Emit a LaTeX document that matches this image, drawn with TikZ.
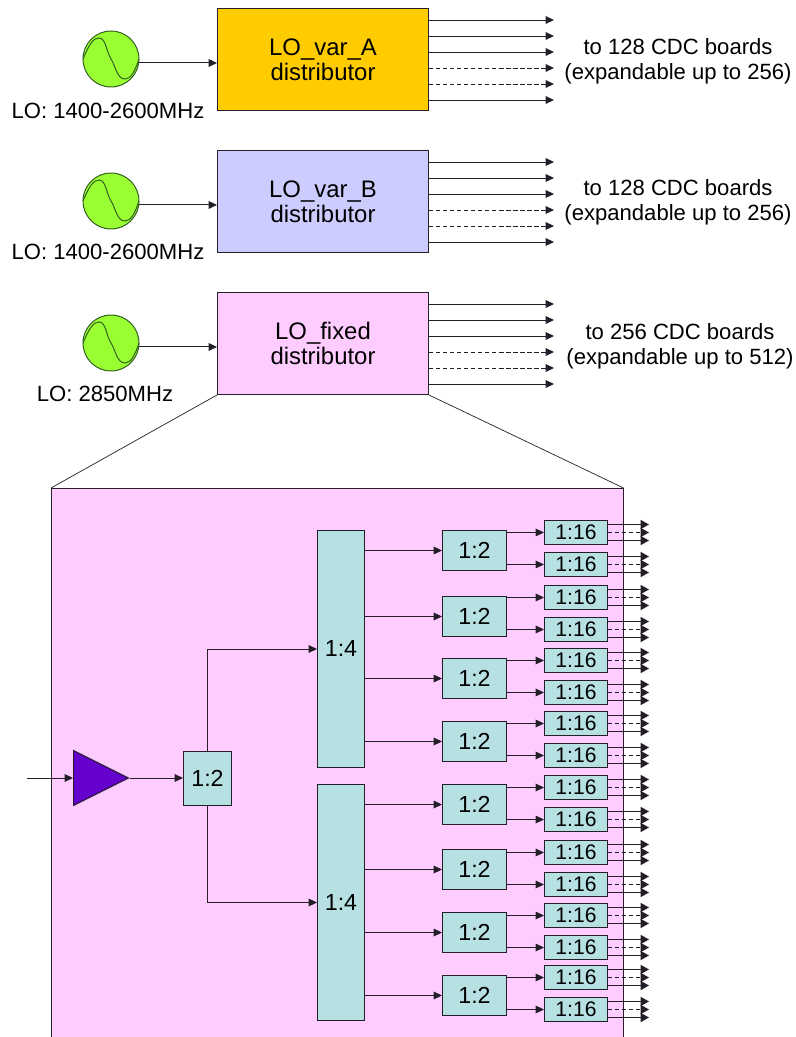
\documentclass[tikz,border=0pt]{standalone}
\usepackage{fontspec}
\setmainfont{Liberation Sans}
\usetikzlibrary{shapes,arrows.meta,positioning,calc}
\definecolor{lo-a}{RGB}{255, 204, 0}
\definecolor{lo-b}{RGB}{204, 204, 255}
\definecolor{lo-pink}{RGB}{255, 204, 255}
\definecolor{lo-teal}{RGB}{183, 224, 226}
\definecolor{lo-green}{RGB}{153, 255, 51}
\definecolor{lo-olive}{RGB}{50, 95, 30}
\definecolor{lo-purple}{RGB}{102, 0, 204}
\definecolor{lo-line}{RGB}{35, 30, 40}
\newlength{\px}
\setlength{\px}{0.025cm}
\tikzstyle{a}=[anchor=north west]
\tikzstyle{box}=[a,draw=lo-line,line width=0.7pt,rectangle,inner sep=0pt,align=center]
\tikzstyle{dist}=[box,minimum width=211\px,minimum height=102\px,font=\fontsize{17}{17.5}\selectfont]
\tikzstyle{four}=[box,fill=lo-teal,minimum width=47\px,minimum height=237\px,font=\fontsize{16.5}{18}\selectfont]
\tikzstyle{two}=[box,fill=lo-teal,minimum width=64\px,minimum height=40\px,font=\fontsize{16.5}{18}\selectfont]
\tikzstyle{sixteen}=[box,fill=lo-teal,minimum width=63\px,minimum height=24\px,font=\fontsize{15}{16}\selectfont]
\tikzstyle{osc}=[circle,draw=lo-olive,line width=0.7pt,fill=lo-green,minimum size=56\px,inner sep=0pt]
\tikzstyle{amp}=[isosceles triangle,isosceles triangle stretches,draw=lo-line,line width=0.7pt,fill=lo-purple,minimum width=55\px,minimum height=55\px,inner sep=0pt]
\tikzstyle{arrow}=[draw=lo-line,line width=0.7pt,-{Triangle[length=6pt,width=5.5pt]}]
\tikzstyle{bigarrow}=[draw=lo-line,line width=0.8pt,-{Triangle[length=6pt,width=6.5pt]}]
\tikzstyle{zoomline}=[draw=lo-line,line width=0.5pt]
\tikzstyle{lab}=[align=center,inner sep=0pt,font=\fontsize{15.7}{18}\selectfont]
\begin{document}
\begin{tikzpicture}[x=\px,y=-\px]
    \useasboundingbox (0,0) rectangle (795,1037);

    % distributors
    \node[dist,fill=lo-a] at (217,8) (lovara) {LO\_var\_A\\distributor};
    \node[dist,fill=lo-b] at (217,150) (lovarb) {LO\_var\_B\\distributor};
    \node[dist,fill=lo-pink] at (217,292) (lofixed) {LO\_fixed\\distributor};

    \node[osc] at (111,59) (osca) {};
    \node[osc] at (111,201) (oscb) {};
    \node[osc] at (111,343) (oscf) {};

    \node[lab] at (108,111) (labela) {LO: 1400-2600MHz};
    \node[lab] at (108,252) (labelb) {LO: 1400-2600MHz};
    \node[lab] at (105,394) (labelf) {LO: 2850MHz};

    \node[lab] at (678,61) (boardsa) {to 128 CDC boards\\(expandable up to 256)};
    \node[lab] at (678,202) (boardsb) {to 128 CDC boards\\(expandable up to 256)};
    \node[lab] at (680,346) (boardsf) {to 256 CDC boards\\(expandable up to 512)};

    \foreach \o/\d in {osca/lovara,oscb/lovarb,oscf/lofixed} {
        \draw[lo-olive,line width=0.7pt,shift={(\o.center)}] (-28,0) .. controls (-22,-14) and (-18,-21) .. (-12,-21)
            .. controls (-5,-21) and (-5,-8) .. (0,0) .. controls (5,8) and (6,20) .. (14,20)
            .. controls (20,20) and (24,12) .. (28,0);
        \draw[arrow] (\o.-8) -- (\o.-8-|\d.west);
        \foreach \y/\s in {12/solid,28/solid,44/solid,60/densely dashed,76/densely dashed,92/solid} {
            \coordinate (\d-out\y) at ($(\d.north east)+(125,\y)$);
            \draw[arrow,\s] (\d.east|-\d-out\y) -- (\d-out\y);
        }
    }

    % expanded view
    \node[a,fill=lo-pink,inner sep=0pt,minimum width=572\px,minimum height=549\px] at (51,488) (big) {};
    \draw[lo-line,line width=0.7pt] (big.south west) -- (big.north west) -- (big.north east) -- (big.south east);
    \draw[zoomline] (lofixed.south west) -- (big.north west);
    \draw[zoomline] (lofixed.south east) -- (big.north east);

    \coordinate (input) at (27,778);
    \node[amp] at (90.5,778) (amp) {};
    \node[box,fill=lo-teal,minimum width=48\px,minimum height=54\px,font=\fontsize{16.5}{18}\selectfont] at (183,751) (split) {1:2};
    \node[four] at (317,530) (foura) {1:4};
    \node[four,minimum height=236\px] at (317,784) (fourb) {1:4};

    \draw[arrow] (input) -- (amp.west);
    \draw[arrow] (amp.east) -- (split.west|-amp.east);
    \draw[arrow] (split.north) |- (foura.west);
    \draw[arrow] (split.south) |- (fourb.west);

    \foreach \n/\y/\p in {1/530/foura,2/596/foura,3/658/foura,4/721/foura,5/784/fourb,6/849/fourb,7/912/fourb,8/975/fourb} {
        \node[two] at (442,\y) (two\n) {1:2};
        \draw[arrow] (\p.east|-two\n) -- (two\n.west);
    }

    \foreach \n/\y/\p in {1/520/1,2/552/1,3/585/2,4/617/2,5/648/3,6/680/3,7/711/4,8/743/4,9/775/5,10/807/5,11/840/6,12/872/6,13/903/7,14/935/7,15/965/8,16/997/8} {
        \node[sixteen] at (544,\y) (six\n) {1:16};
        \draw[arrow] (two\p.east|-six\n) -- (six\n.west);
        \foreach \k/\s in {-8/solid,0/densely dashed,8/solid} {
            \coordinate (end\n\k) at ($(six\n.east)+(41,\k)$);
            \draw[bigarrow,\s] (six\n.east|-end\n\k) -- (end\n\k);
        }
    }
\end{tikzpicture}
\end{document}
